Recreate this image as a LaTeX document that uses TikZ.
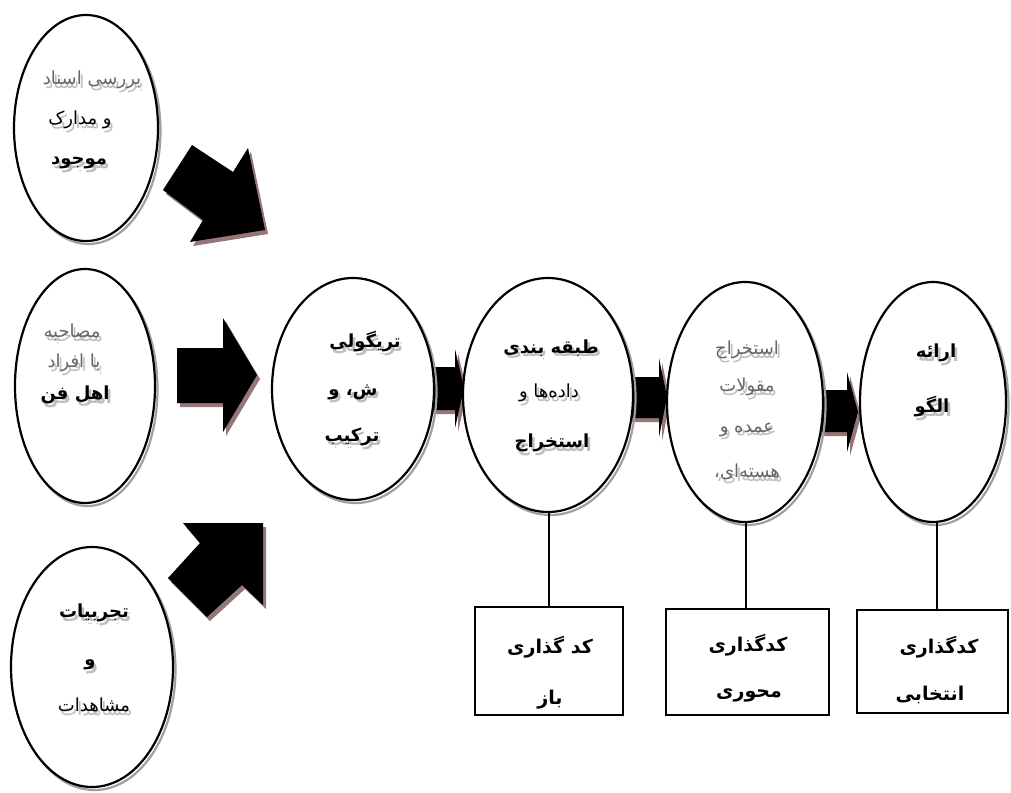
\documentclass[tikz,border=0pt]{standalone}
\usepackage{fontspec}
\usetikzlibrary{shapes.geometric,calc}
\newfontfamily\fa[Script=Arabic]{DejaVu Sans}
\TeXXeTstate=1
\definecolor{ashadow}{RGB}{150,118,118}
\definecolor{eshadow}{RGB}{160,160,160}
\tikzset{
  oval/.style={ellipse, draw=black, line width=2.2pt, fill=white, inner sep=0pt},
  ovalsh/.style={ellipse, draw=eshadow, line width=2.2pt, inner sep=0pt},
  blk/.style={fill=black},
  blksh/.style={fill=ashadow},
  codebox/.style={draw=black, line width=1.3pt, fill=white, inner sep=0pt},
  link/.style={draw=black, line width=1.2pt},
  tb/.style={font=\fa\bfseries\fontsize{18}{21}\selectfont, text=black, inner sep=0pt},
  tm/.style={font=\fa\fontsize{18}{21}\selectfont, text=black, inner sep=0pt},
  tr/.style={font=\fa\fontsize{18}{21}\selectfont, text=black!60, inner sep=0pt},
  tbox/.style={font=\fa\bfseries\fontsize{19}{22}\selectfont, text=black, inner sep=0pt},
  tsh/.style={text=black!25},
}
% name, cx, cy, width, height
\newcommand\ovalat[5]{%
  \node[ovalsh, minimum width=#4pt, minimum height=#5pt] at (#2+2.5,#3+3) {};
  \node[oval, minimum width=#4pt, minimum height=#5pt] (#1) at (#2,#3) {};}
% name, style, x, y, text
\newcommand\fatext[5]{%
  \node[#2, tsh] at (#3+2.5,#4+3.5) {#5};
  \node[#2] (#1) at (#3,#4) {#5};}
\newcommand\blockarrow[1]{%
  \fill[blksh, shift={(3,4)}] #1 -- cycle;
  \fill[blk] #1 -- cycle;}
\begin{document}
\begin{tikzpicture}[x=1pt,y=-1pt]
\useasboundingbox (0,0) rectangle (1011,792);
\fill[white] (0,0) rectangle (1011,792);

% block arrows
\blockarrow{(192,145) -- (233,172) -- (248,148) -- (265,230) -- (190,242) -- (203,220) -- (163,190)}
\blockarrow{(177,348) -- (223,348) -- (223,318) -- (257,375) -- (223,432) -- (223,403) -- (177,403)}
\blockarrow{(183,523) -- (263,523) -- (263,605) -- (242,585) -- (207,617) -- (168,578) -- (200,543)}
\blockarrow{(425,367) -- (455,367) -- (455,349) -- (464,388) -- (455,428) -- (455,410) -- (425,410)}
\blockarrow{(625,377) -- (659,377) -- (659,358) -- (667,397) -- (659,437) -- (659,418) -- (625,418)}
\blockarrow{(815,390) -- (847,390) -- (847,372) -- (858,412) -- (847,452) -- (847,432) -- (815,432)}

% ellipses
\ovalat{e1}{86}{128}{144}{226}
\ovalat{e2}{85}{386}{140}{234}
\ovalat{e3}{92}{667}{162}{240}
\ovalat{eA}{353}{389}{162}{222}
\ovalat{eB}{548}{395}{170}{234}
\ovalat{eC}{745}{402}{156}{240}
\ovalat{eD}{933}{402}{146}{240}

% texts in ellipses
\fatext{e1a}{tr}{92}{80}{\beginR بررسی اسناد\endR}
\fatext{e1b}{tm}{80}{120}{\beginR و مدارک\endR}
\fatext{e1c}{tb}{79}{163}{\beginR موجود\endR}

\fatext{e2a}{tr}{72}{332}{\beginR مصاحبه\endR}
\fatext{e2b}{tr}{74}{363}{\beginR با افراد\endR}
\fatext{e2c}{tb}{75}{395}{\beginR اهل فن\endR}

\fatext{e3a}{tb}{94}{613}{\beginR تجربیات\endR}
\fatext{e3b}{tb}{90}{665}{\beginR و\endR}
\fatext{e3c}{tm}{94}{705}{\beginR مشاهدات\endR}

\fatext{eAa}{tb}{365}{342}{\beginR تریگولی\endR}
\fatext{eAb}{tb}{353}{392}{\beginR ش، و\endR}
\fatext{eAc}{tb}{352}{437}{\beginR ترکیب\endR}

\fatext{eBa}{tb}{551}{348}{\beginR طبقه بندی\endR}
\fatext{eBb}{tm}{549}{393}{\beginR داده‌ها و\endR}
\fatext{eBc}{tb}{552}{443}{\beginR استخراج\endR}

\fatext{eCa}{tr}{747}{350}{\beginR استخراج\endR}
\fatext{eCb}{tr}{747}{387}{\beginR مقولات\endR}
\fatext{eCc}{tr}{747}{430}{\beginR عمده و\endR}
\fatext{eCd}{tr}{747}{472}{\beginR هسته‌ای،\endR}

\fatext{eDa}{tb}{936}{353}{\beginR ارائه\endR}
\fatext{eDb}{tb}{932}{407}{\beginR الگو\endR}

% coding boxes
\node[codebox, minimum width=148pt, minimum height=108pt] (b1) at (549,661) {};
\node[codebox, minimum width=163pt, minimum height=106pt] (b2) at (747.5,662) {};
\node[codebox, minimum width=151pt, minimum height=103pt] (b3) at (932.5,661.5) {};

\node[tbox] (b1a) at (550,647) {\beginR کد گذاری\endR};
\node[tbox] (b1b) at (550,700) {\beginR باز\endR};
\node[tbox] (b2a) at (748,645) {\beginR کدگذاری\endR};
\node[tbox] (b2b) at (749,695) {\beginR محوری\endR};
\node[tbox] (b3a) at (939,647) {\beginR کدگذاری\endR};
\node[tbox] (b3b) at (930,695) {\beginR انتخابی\endR};

% connectors
\draw[link] ([xshift=1pt]eB.south) -- ([xshift=1pt]eB.south |- b1.north);
\draw[link] ([xshift=1pt]eC.south) -- ([xshift=1pt]eC.south |- b2.north);
\draw[link] ([xshift=4pt]eD.south) -- ([xshift=4pt]eD.south |- b3.north);
\end{tikzpicture}
\end{document}
